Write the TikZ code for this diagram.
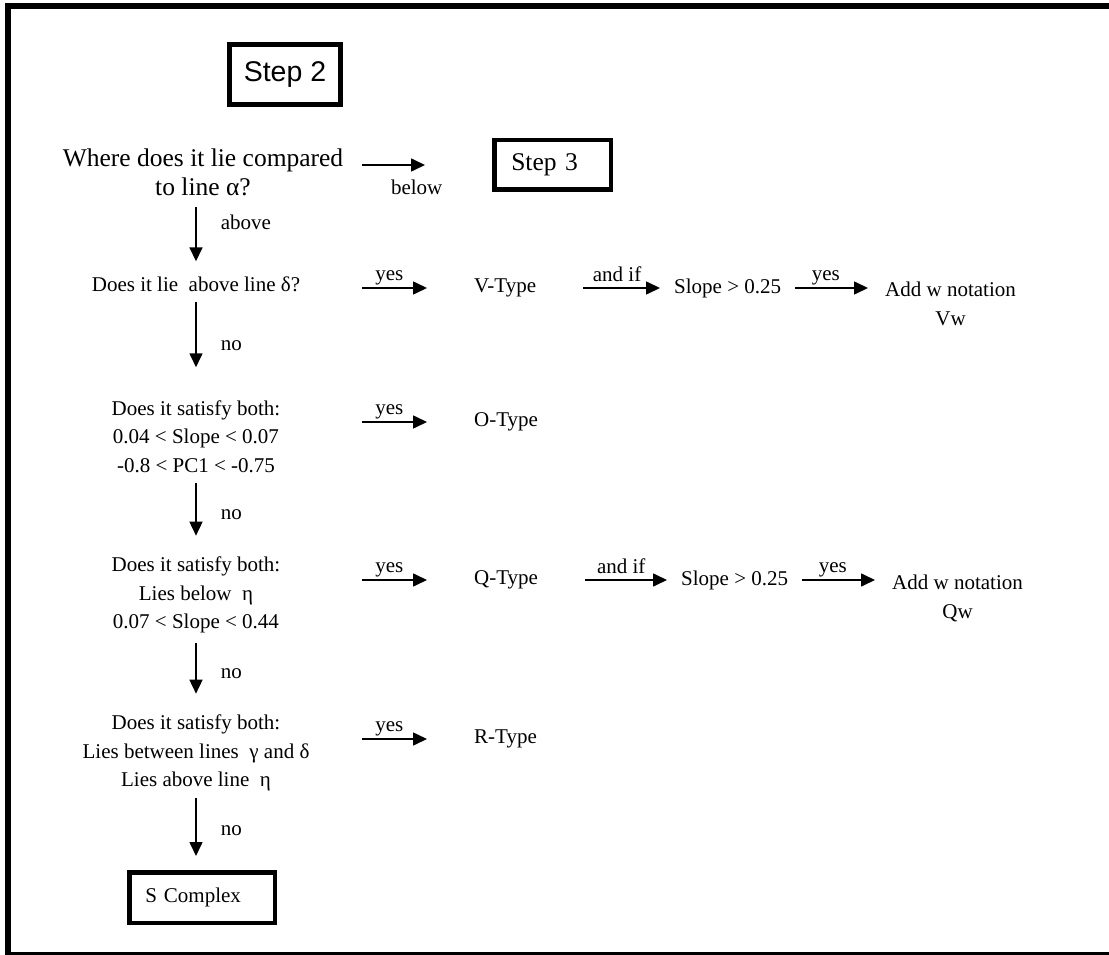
\documentclass[tikz,border=0pt]{standalone}
\usepackage{fontspec}
\setmainfont{Liberation Serif}
\newfontfamily\arialfont{Liberation Sans}
\usepackage{tikz}
\usetikzlibrary{arrows.meta,positioning}
\definecolor{ink}{HTML}{000000}
\tikzset{
  frame/.style={draw=ink, line width=6pt},
  stepbox/.style={draw=ink, line width=4.5pt, inner xsep=16pt, inner ysep=0pt,
                  minimum height=50pt, align=left},
  ques/.style={align=center, inner sep=0pt, minimum width=332pt, font=\qsize},
  res/.style={anchor=west, inner ysep=0pt, inner xsep=47pt, font=\qsize},
  cond/.style={anchor=west, inner ysep=0pt, inner xsep=14pt, font=\qsize},
  note/.style={anchor=north west, inner ysep=0pt, inner xsep=17pt, align=center, font=\qsize},
  lbl/.style={font=\qsize, inner sep=2pt},
  flow/.style={-{Triangle[length=14pt,width=13pt]}, line width=1.6pt, draw=ink},
  dn/.style={flow, shorten <=10pt, shorten >=21pt}
}
\newcommand{\qsize}{\fontsize{21}{28.5}\selectfont}
\newcommand{\bigsize}{\fontsize{25.5}{29}\selectfont}

\begin{document}
\begin{tikzpicture}[x=1pt,y=-1pt]
  \fill[white] (0,0) rectangle (1109,955);
  \useasboundingbox (0,0) rectangle (1109,955);
  \draw[frame] (1120,6) -- (7.5,6) -- (7.5,955) -- (1120,955);

  \node[stepbox, line width=5pt, minimum width=111pt, minimum height=60pt, inner xsep=0pt,
        align=center, font=\arialfont\fontsize{28.5}{32}\selectfont] (step2) at (285,74.5) {Step 2};
  \node[ques, font=\bigsize, minimum width=318pt] (where) at (203,172) {Where does it lie compared\\to line α?};
  \node[stepbox, text width=82.5pt, minimum height=49.5pt, inner xsep=17pt, font=\bigsize] (step3) at (552.5,165) {Step 3};

  \node[ques] (qdelta) at (196,284) {Does it lie\ \ above line δ?};
  \node[ques] (qslope) at (196,436.5) {Does it satisfy both:\\0.04 < Slope < 0.07\\-0.8 < PC1 < -0.75};
  \node[ques] (qeta) at (196,595) {Does it satisfy both:\\Lies below\ \ η\\0.07 < Slope < 0.44};
  \node[ques] (qgamma) at (196,753) {Does it satisfy both:\\Lies between lines\ \ γ and δ\\Lies above line\ \ η};
  \node[stepbox, text width=113.5pt, minimum height=50.5pt, font=\qsize] (scx) at (202,897.5) {S Complex};

  \node[res] (vtype) at (427,288) {V-Type};
  \node[cond] (vslope) at (660,288) {Slope > 0.25};
  \node[note] (vnote) at (868,282) {Add w notation\\Vw};
  \node[res] (otype) at (427,422) {O-Type};
  \node[res] (qtype) at (427,580) {Q-Type};
  \node[cond] (qslope2) at (667,580) {Slope > 0.25};
  \node[note] (qnote) at (875,575) {Add w notation\\Qw};
  \node[res] (rtype) at (427,739) {R-Type};

  \draw[flow, shorten >=67pt] (where.east |- step3.west) -- node[lbl, below=12pt, pos=0.42] {below} (step3.west);
  \draw[flow] (qdelta.east |- vtype.west) -- node[lbl, above, pos=0.42] {yes} (vtype.west);
  \draw[flow] (vtype.east) -- node[lbl, above=3pt, pos=0.44] {and if} (vslope.west);
  \draw[flow] (vslope.east) -- node[lbl, above, pos=0.42] {yes} (vnote.west |- vslope.east);
  \draw[flow] (qslope.east |- otype.west) -- node[lbl, above, pos=0.42] {yes} (otype.west);
  \draw[flow] (qeta.east |- qtype.west) -- node[lbl, above, pos=0.42] {yes} (qtype.west);
  \draw[flow] (qtype.east) -- node[lbl, above=3pt, pos=0.44] {and if} (qslope2.west);
  \draw[flow] (qslope2.east) -- node[lbl, above, pos=0.42] {yes} (qnote.west |- qslope2.east);
  \draw[flow] (qgamma.east |- rtype.west) -- node[lbl, above, pos=0.42] {yes} (rtype.west);

  \draw[dn, shorten <=11pt, shorten >=15pt] (where.south -| qdelta.north) -- node[lbl, right=22pt, pos=0.33] {above} (qdelta.north);
  \draw[dn, shorten >=33pt] (qdelta.south) -- node[lbl, right=22pt] {no} (qslope.north);
  \draw[dn] (qslope.south) -- node[lbl, right=22pt] {no} (qeta.north);
  \draw[dn] (qeta.south) -- node[lbl, right=22pt] {no} (qgamma.north);
  \draw[dn, shorten <=7pt, shorten >=14pt] (qgamma.south) -- node[lbl, right=22pt] {no} (qgamma.south |- scx.north);
\end{tikzpicture}
\end{document}
